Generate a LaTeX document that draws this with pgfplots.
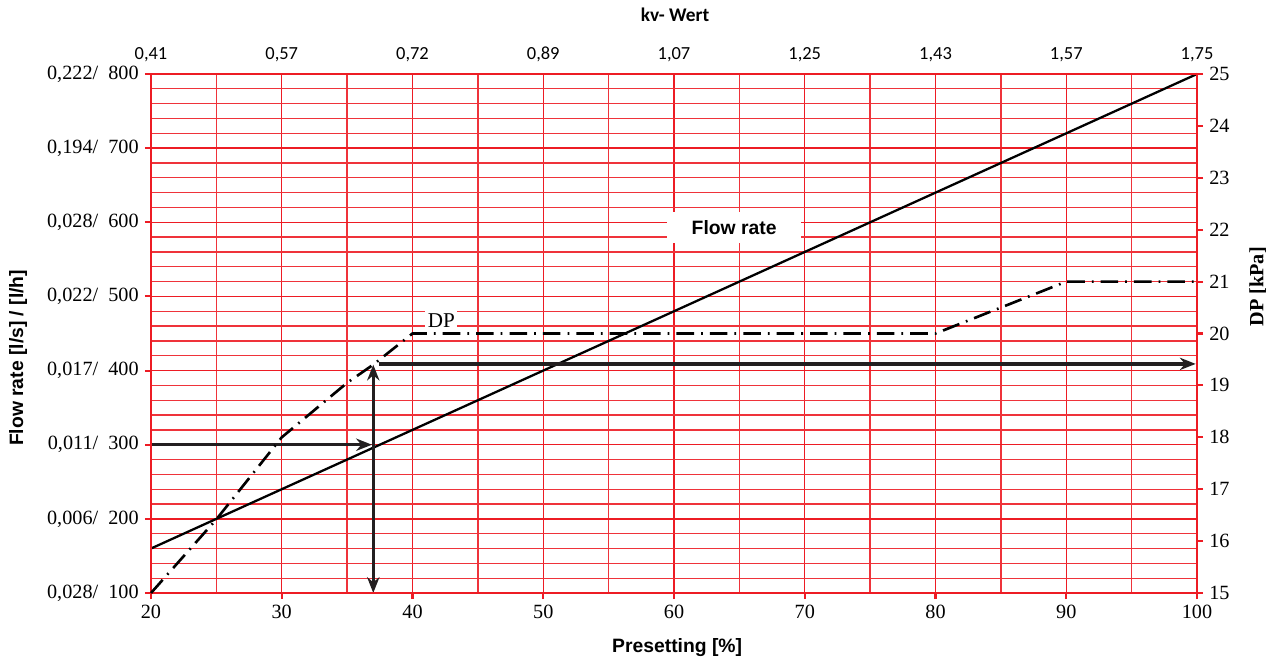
\documentclass[border=0pt]{standalone}
\usepackage{fontspec}
\setmainfont{Liberation Serif}
\setsansfont{Liberation Sans}
\newfontfamily\carlito{Carlito}
\usepackage{pgfplots}
\pgfplotsset{compat=1.18}
\usetikzlibrary{arrows.meta}
\definecolor{gridred}{RGB}{237,28,36}
\definecolor{arrowgray}{RGB}{35,31,32}

\begin{document}
\begin{tikzpicture}
\pgfplotsset{
    every axis/.append style={
        scale only axis, width=20.92cm, height=10.38cm,
        xmin=20, xmax=100, clip=false,
        axis line style={gridred, line width=1.6pt},
        tick style={gridred, line width=1.2pt},
        tick align=outside, major tick length=3.5pt,
        tick label style={font=\fontsize{11.5}{13}\selectfont},
        /pgf/number format/assume math mode=true,
    }
}
% flow rate axis (left, bottom) with the grid
\begin{axis}[
    ymin=100, ymax=800,
    xtick={20,30,...,100}, ytick={100,200,...,800},
    xtick pos=left, ytick pos=left,
    yticklabels={{0,028/\ \ 100}, {0,006/\ \ 200}, {0,011/\ \ 300},
        {0,017/\ \ 400}, {0,022/\ \ 500}, {0,028/\ \ 600},
        {0,194/\ \ 700}, {0,222/\ \ 800}},
    minor x tick num=1, minor y tick num=4, minor tick length=0pt,
    grid=both,
    major grid style={gridred, line width=0.75pt},
    minor grid style={gridred!90, line width=0.75pt},
    xlabel={Presetting [\%]}, ylabel={Flow rate [l/s] / [l/h]},
    label style={font=\sffamily\bfseries\fontsize{11}{13}\selectfont},
    xlabel style={at={(axis description cs:0.503,-0.106)}, anchor=center},
    ylabel style={at={(axis description cs:-0.127,0.453)}, anchor=center},
]
    \addplot[black, line width=1.3pt] coordinates {(20,160) (100,800)};
    % reading example: 300 l/h at 37 %
    \addplot[arrowgray, line width=2pt, -{Stealth[length=9pt, width=7pt]}]
        coordinates {(20,300) (36.9,300)};
    \addplot[arrowgray, line width=2pt,
        {Stealth[length=9pt, width=7pt]}-{Stealth[length=9pt, width=7pt]}]
        coordinates {(37,100) (37,408)};
    \addplot[arrowgray, line width=2pt, -{Stealth[length=9pt, width=7pt]}]
        coordinates {(37.4,409) (99.9,409)};
    \node[fill=white, inner xsep=14pt, inner ysep=5pt,
        font=\sffamily\bfseries\fontsize{11}{13}\selectfont]
        at (axis cs:64.6,593) {Flow rate};
    \node[fill=white, inner sep=1.5pt, font=\fontsize{12}{14}\selectfont]
        at (axis cs:42.2,468) {DP};
\end{axis}
% kv value (top) and pressure drop (right)
\begin{axis}[
    ymin=15, ymax=25, ytick={15,16,...,25},
    xtick pos=right, xticklabel pos=right,
    ytick pos=right, yticklabel pos=right,
    xtick={20,30,...,100},
    xticklabels={{0,41}, {0,57}, {0,72}, {0,89}, {1,07}, {1,25},
        {1,43}, {1,57}, {1,75}},
    xtick style={draw=none},
    xticklabel style={font=\carlito\fontsize{10.5}{12}\selectfont},
    xlabel={kv- Wert}, ylabel={DP [kPa]},
    xlabel style={font=\carlito\bfseries\fontsize{11}{13}\selectfont,
        at={(axis description cs:0.501,1.114)}, anchor=center},
    ylabel style={font=\rmfamily\bfseries\fontsize{11.5}{13}\selectfont,
        at={(axis description cs:1.058,0.59)}, anchor=center, rotate=0},
]
    \addplot[black, line width=1.5pt,
        dash pattern=on 10pt off 4pt on 1pt off 4pt]
        coordinates {(20,15) (25,16.42) (30,18) (35,19.05) (37,19.4)
        (40,20) (80,20) (90,21) (100,21)};
\end{axis}
\pgfresetboundingbox
\path (-3.02,-1.38) rectangle (22.36,11.86);
\end{tikzpicture}
\end{document}
